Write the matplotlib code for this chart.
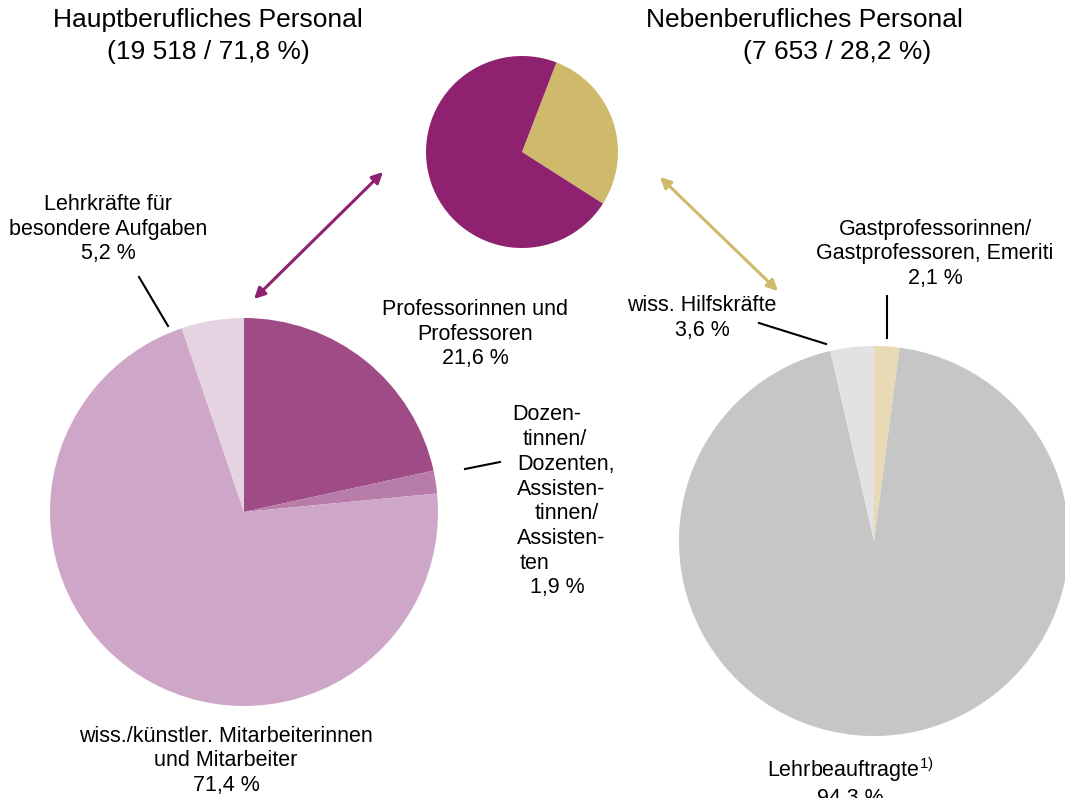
import matplotlib
matplotlib.use("Agg")
import matplotlib.pyplot as plt

plt.rcParams['font.family'] = ['Liberation Sans', 'DejaVu Sans']
plt.rcParams['mathtext.fontset'] = 'custom'
plt.rcParams['mathtext.rm'] = 'Liberation Sans'

# Data (Anteile in %)
total_labels = ['Nebenberufliches Personal', 'Hauptberufliches Personal']
total_shares = [28.2, 71.8]
total_colors = ['#cfb96a', '#8e2170']

haupt_labels = ['Professorinnen und\nProfessoren', 'Dozentinnen/Dozenten,\nAssistentinnen/Assistenten',
                'wiss./künstler. Mitarbeiterinnen\nund Mitarbeiter', 'Lehrkräfte für\nbesondere Aufgaben']
haupt_shares = [21.6, 1.9, 71.4, 5.2]
haupt_colors = ['#9e4b86', '#b87ca8', '#cea6c7', '#e6d3e2']

neben_labels = ['Gastprofessorinnen/\nGastprofessoren, Emeriti', 'Lehrbeauftragte', 'wiss. Hilfskräfte']
neben_shares = [2.1, 94.3, 3.6]
neben_colors = ['#e8dab4', '#c6c6c6', '#e2e2e2']

W, H = 1065, 798


def Y(py):
    # pixel row -> data y
    return H - py


def pct(v):
    return f'{v:.1f} %'.replace('.', ',')


fig = plt.figure(figsize=(W / 100, H / 100), dpi=100)
ax = fig.add_axes([0, 0, 1, 1])

ax.pie(total_shares, colors=total_colors, startangle=69, counterclock=False,
       radius=96, center=(522, Y(152)), wedgeprops=dict(linewidth=0))
ax.pie(haupt_shares, colors=haupt_colors, startangle=90, counterclock=False,
       radius=194, center=(244, Y(512)), wedgeprops=dict(linewidth=0))
ax.pie(neben_shares, colors=neben_colors, startangle=90, counterclock=False,
       radius=195, center=(874, Y(541)), wedgeprops=dict(linewidth=0))

ax.set_xlim(0, W)
ax.set_ylim(0, H)
ax.set_aspect('equal')
ax.axis('off')

# Titles
ax.text(208, Y(20), 'Hauptberufliches Personal', ha='center', va='center', fontsize=19)
ax.text(208, Y(52), '(19 518 / ' + pct(total_shares[1]) + ')', ha='center', va='center', fontsize=19)
ax.text(804, Y(20), 'Nebenberufliches Personal', ha='center', va='center', fontsize=19)
ax.text(837, Y(52), '(7 653 / ' + pct(total_shares[0]) + ')', ha='center', va='center', fontsize=19)

# Arrows between the pies
ax.annotate('', xy=(254, Y(299)), xytext=(383, Y(172)),
            arrowprops=dict(arrowstyle='<|-|>', color='#8e2170', lw=2.2, mutation_scale=16,
                            shrinkA=0, shrinkB=0))
ax.annotate('', xy=(778, Y(291)), xytext=(660, Y(177)),
            arrowprops=dict(arrowstyle='<|-|>', color='#cfb96a', lw=2.2, mutation_scale=16,
                            shrinkA=0, shrinkB=0))

fs = 15.5
ls = 1.22

# Labels, left pie
ax.text(108, Y(229), haupt_labels[3] + '\n' + pct(haupt_shares[3]),
        ha='center', va='center', fontsize=fs, linespacing=ls)
ax.plot([139, 168], [Y(277), Y(326)], color='black', lw=1.5)

ax.text(475, Y(334), haupt_labels[0] + '\n' + pct(haupt_shares[0]),
        ha='center', va='center', fontsize=fs, linespacing=ls)

doz_lines = [('Dozen-', 512), ('tinnen/', 523), ('Dozenten,', 517), ('Assisten-', 517),
             ('tinnen/', 535), ('Assisten-', 517), ('ten', 520), (pct(haupt_shares[1]), 530)]
for i, (s, x) in enumerate(doz_lines):
    ax.text(x, Y(415 + i * 24.7), s, ha='left', va='center', fontsize=fs)
ax.plot([465, 500], [Y(469), Y(462)], color='black', lw=1.5)

ax.text(226, Y(761), haupt_labels[2] + '\n' + pct(haupt_shares[2]),
        ha='center', va='center', fontsize=fs, linespacing=ls)

# Labels, right pie
ax.text(935, Y(254), neben_labels[0] + '\n' + pct(neben_shares[0]),
        ha='center', va='center', fontsize=fs, linespacing=ls)
ax.plot([887, 887], [Y(296), Y(338)], color='black', lw=1.5)

ax.text(702, Y(318), neben_labels[2] + '\n' + pct(neben_shares[2]),
        ha='center', va='center', fontsize=fs, linespacing=ls)
ax.plot([759, 826], [Y(323), Y(344)], color='black', lw=1.5)

ax.text(850, Y(782), neben_labels[1] + r'$^{\mathrm{1)}}$' + '\n' + pct(neben_shares[1]),
        ha='center', va='center', fontsize=fs, linespacing=ls)

fig.savefig('out.png', dpi=100)
